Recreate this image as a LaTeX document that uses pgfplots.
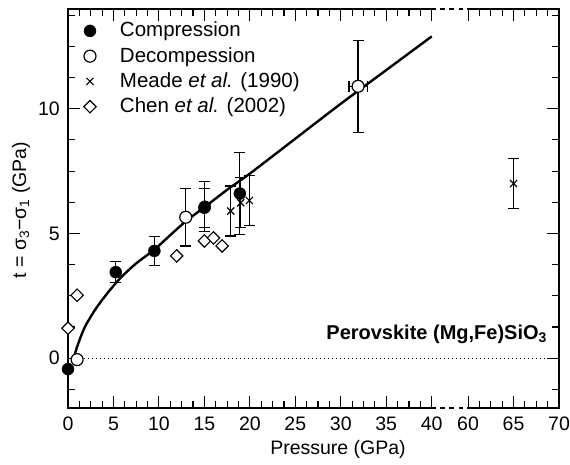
\documentclass[border=0pt]{standalone}
\usepackage{fontspec}
\setmainfont{Liberation Sans}
\usepackage{pgfplots}
\pgfplotsset{compat=1.18}
\begin{document}
\fontsize{19.5}{23}\selectfont
\begin{tikzpicture}
\useasboundingbox (-68pt,-56pt) rectangle (502pt,408pt);
\begin{axis}[
  at={(0pt,0pt)}, anchor=south west,
  scale only axis, width=491pt, height=399pt,
  xmin=0, xmax=54, ymin=-2, ymax=14,
  clip=false,
  font=\fontsize{19.5}{23}\selectfont,
  axis line style={line width=1.3pt},
  every tick/.style={black, line width=1.1pt},
  major tick length=12pt, minor tick length=7pt,
  tick align=inside, tick pos=both,
  xtick={0,5,10,15,20,25,30,35,40,44,49,54},
  xticklabels={0,5,10,15,20,25,30,35,40,60,65,70},
  minor xtick={1.25,2.5,3.75,6.25,7.5,8.75,11.25,12.5,13.75,16.25,17.5,18.75,21.25,22.5,23.75,26.25,27.5,28.75,31.25,32.5,33.75,36.25,37.5,38.75,45.25,46.5,47.75,50.25,51.5,52.75},
  ytick={0,5,10},
  minor ytick={-1.25,1.25,2.5,3.75,6.25,7.5,8.75,11.25,12.5,13.75},
  /pgf/number format/assume math mode=true,
  xticklabel style={inner sep=0pt, anchor=north, yshift=-9pt},
  yticklabel style={inner sep=0pt, anchor=east, xshift=-8pt},
  xlabel={Pressure (GPa)},
  ylabel={t = σ\textsubscript{3}−σ\textsubscript{1} (GPa)},
  xlabel style={at={(axis description cs:0.5499,-0.1028)}, anchor=center},
  ylabel style={at={(axis description cs:-0.0957,0.496)}, anchor=center},
  legend image code/.code={\path[draw=none, fill=none] (-8pt,-8pt) rectangle (8pt,8pt); \draw[#1] plot[only marks] coordinates {(0pt,0pt)};},
  legend cell align=left,
  legend style={at={(axis description cs:0,1)}, anchor=north west, draw=none, fill=none,
    inner sep=0pt, outer sep=0pt, xshift=14pt, yshift=-13pt, row sep=7.5pt, column sep=22pt,
    nodes={inner sep=0pt}, font=\fontsize{20.5}{24}\selectfont},
  error bars/error bar style={line width=1.2pt},
  error bars/error mark options={rotate=90, mark size=5.5pt, line width=1.2pt},
]
% reference line
\addplot[forget plot, line width=0.9pt, dash pattern=on 1pt off 3pt] coordinates {(0,0) (54,0)};
% fitted curve
\addplot[forget plot, smooth, line width=2.4pt] coordinates {
(0.65,0) (0.8,0.22) (1.0,0.45) (1.5,0.95) (2,1.35) (3,1.95) (4,2.45) (5,2.9) (6,3.3)
(7.5,3.8) (9.5,4.35) (11,4.85) (13,5.5) (15,6.05) (17.5,6.75) (20,7.4) (25,8.8)
(30,10.2) (35,11.55) (40,12.9)};
% Compression
\addplot[only marks, mark=*, mark size=6pt, black,
  error bars/.cd, y dir=both, y explicit] table[x=x, y=y, y error=ey] {
x y ey
5.25 3.45 0.42
9.5 4.3 0.57
15.0 6.03 0.78
15.05 6.07 1.0
18.9 6.6 1.64
};
\addlegendentry{Compression}
% Decompression
\addplot[only marks, mark=*, mark size=6pt, mark options={fill=white, line width=1.2pt}, black,
  error bars/.cd, y dir=both, y explicit] table[x=x, y=y, y error=ey] {
x y ey
12.95 5.65 1.15
};
\addlegendentry{Decompession}
% Meade
\addplot[only marks, mark=x, mark size=5pt, mark options={line width=1.1pt}, black,
  error bars/.cd, y dir=both, y explicit] table[x=x, y=y, y error=ey] {
x y ey
17.9 5.9 1.0
19.0 6.23 1.0
19.95 6.32 1.0
49 7.0 1.0
};
\addlegendentry{Meade \textit{et al.} (1990)}
% Chen
\addplot[only marks, mark=square*, mark size=4.4pt, mark options={rotate=45, fill=white, line width=1.1pt}, black] table[x=x, y=y] {
x y
0 1.2
1.0 2.52
11.95 4.1
15.0 4.7
16.0 4.82
16.95 4.5
};
\addlegendentry{Chen \textit{et al.} (2002)}
% points without error bars
\addplot[forget plot, only marks, mark=*, mark size=6pt, black] coordinates {(0,-0.44)};
\addplot[forget plot, only marks, mark=*, mark size=6pt, mark options={fill=white, line width=1.2pt}, black] coordinates {(1.0,-0.06)};
\addplot[forget plot, only marks, mark=*, mark size=6pt, mark options={fill=white, line width=1.2pt}, black,
  error bars/.cd, y dir=both, y explicit, x dir=both, x explicit] coordinates {(31.9,10.9) +- (1.0,1.85)};
\node[anchor=base east, inner sep=0pt, font=\fontsize{20}{24}\selectfont\bfseries] at (axis cs:52.7,0.76) {Perovskite (Mg,Fe)SiO\textsubscript{3}};
\coordinate (bl) at (axis cs:40,-2);
\coordinate (br) at (axis cs:44,-2);
\coordinate (tl) at (axis cs:40,14);
\coordinate (tr) at (axis cs:44,14);
\end{axis}
\draw[white, line width=3pt] ([xshift=4.5pt]bl) -- ([xshift=-0.8pt]br);
\draw[white, line width=3pt] ([xshift=4.5pt]tl) -- ([xshift=-0.8pt]tr);
\draw[line width=1.3pt, dash pattern=on 5pt off 4.25pt] ([xshift=8.3pt]bl) -- ([xshift=-4.6pt]br);
\draw[line width=1.3pt, dash pattern=on 5pt off 4.25pt] ([xshift=8.3pt]tl) -- ([xshift=-4.6pt]tr);
\end{tikzpicture}
\end{document}
